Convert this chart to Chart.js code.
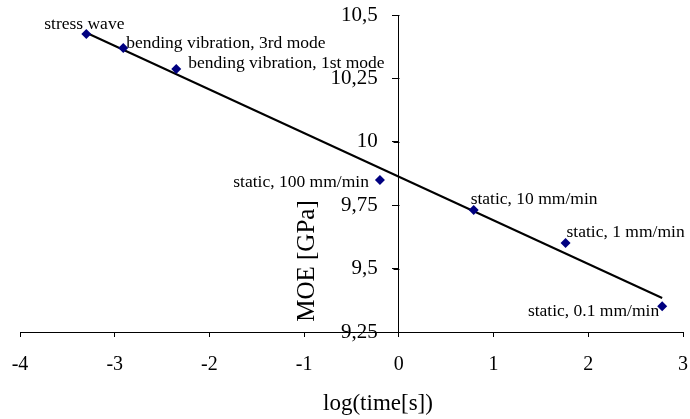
<!DOCTYPE html>
<html>
<head>
<meta charset="utf-8">
<script src="https://cdn.jsdelivr.net/npm/chart.js@4.4.1/dist/chart.umd.min.js"></script>
<style>
  html, body { margin: 0; padding: 0; background: #fff; }
  #wrap { width: 690px; height: 419px; }
</style>
</head>
<body>
<div id="wrap"><canvas id="moe"></canvas></div>
<script>
// measurements: log10 of test time vs. MOE
var testNames = ['stress wave', 'bending vibration, 3rd mode', 'bending vibration, 1st mode',
                 'static, 100 mm/min', 'static, 10 mm/min', 'static, 1 mm/min', 'static, 0.1 mm/min'];
var logTime = [-3.30, -2.91, -2.35, -0.20, 0.79, 1.76, 2.78];
var moe = [10.425, 10.37, 10.287, 9.849, 9.731, 9.601, 9.352];

// linear trend line end points
var trendX = [-3.30, 2.78];
var trendY = [10.43, 9.384];

// where each label sits relative to its point (px), and its alignment
var labelDx = [-2, 3, 12, -11, -3, 1, -3];
var labelDy = [-5, 0, -1, 7, -6, -6, 10];
var labelAlign = ['center', 'left', 'left', 'right', 'left', 'left', 'right'];

var serif = "'Liberation Serif', 'Times New Roman', serif";

var points = logTime.map(function (x, i) { return {x: x, y: moe[i]}; });
var trend = trendX.map(function (x, i) { return {x: x, y: trendY[i]}; });

// drop the extra room chart.js keeps for overflowing tick labels
function noOverflow(scale) {
    scale.paddingTop = 0;
    scale.paddingBottom = 0;
    scale.paddingLeft = 0;
    scale.paddingRight = 0;
}

var pointLabels = {
    id: 'pointLabels',
    afterDatasetsDraw: function (chart) {
        var ctx = chart.ctx;
        var meta = chart.getDatasetMeta(0);
        var xs = chart.scales.x, ys = chart.scales.y;
        ctx.save();

        // tick marks on the y axis (to the left of it, at x = 0)
        var x0 = Math.round(xs.getPixelForValue(0)) + 0.5;
        ctx.strokeStyle = '#000';
        ctx.lineWidth = 1;
        ys.ticks.forEach(function (t) {
            var py = Math.round(ys.getPixelForValue(t.value)) + 0.5;
            ctx.beginPath();
            ctx.moveTo(x0 - 6, py);
            ctx.lineTo(x0, py);
            ctx.stroke();
        });

        ctx.font = '17.5px ' + serif;
        ctx.fillStyle = '#000';
        ctx.textBaseline = 'alphabetic';
        meta.data.forEach(function (el, i) {
            ctx.textAlign = labelAlign[i];
            ctx.fillText(testNames[i], el.x + labelDx[i], el.y + labelDy[i]);
        });
        // axis titles
        ctx.textAlign = 'center';
        ctx.textBaseline = 'middle';
        ctx.font = '23px ' + serif;
        ctx.fillText('log(time[s])', 378, 404);
        ctx.translate(307, 261);
        ctx.rotate(-Math.PI / 2);
        ctx.font = '25px ' + serif;
        ctx.fillText('MOE [GPa]', 0, 0);
        ctx.restore();
    }
};

new Chart(document.getElementById('moe'), {
    type: 'scatter',
    data: {
        datasets: [{
            label: 'MOE',
            data: points,
            pointStyle: 'rectRot',
            pointRadius: 5,
            pointHoverRadius: 5,
            backgroundColor: '#000080',
            borderColor: '#000080',
            borderWidth: 0,
            order: 1
        }, {
            label: 'trend',
            type: 'line',
            data: trend,
            borderColor: '#000',
            borderWidth: 2,
            pointRadius: 0,
            fill: false,
            order: 2
        }]
    },
    options: {
        responsive: true,
        maintainAspectRatio: false,
        animation: false,
        layout: { padding: { left: 20, right: 7, top: 15, bottom: 26 } },
        plugins: { legend: { display: false }, tooltip: { enabled: false } },
        scales: {
            x: {
                type: 'linear',
                position: 'bottom',
                min: -4,
                max: 3,
                afterFit: noOverflow,
                ticks: { stepSize: 1, color: '#000', padding: 16, font: { family: serif, size: 20 } },
                grid: { drawOnChartArea: false, tickLength: 5, color: '#000' },
                border: { color: '#000', width: 1 }
            },
            y: {
                type: 'linear',
                position: { x: 0 },
                min: 9.25,
                max: 10.5,
                afterFit: noOverflow,
                ticks: {
                    stepSize: 0.25,
                    color: '#000',
                    font: { family: serif, size: 21 },
                    // labels sit right against the axis here, so pad with spaces
                    callback: function (v) { return String(v).replace('.', ',') + '    '; }
                },
                grid: { drawOnChartArea: false, tickLength: 6, color: '#000' },
                border: { color: '#000', width: 1 }
            }
        }
    },
    plugins: [pointLabels]
});
</script>
</body>
</html>
